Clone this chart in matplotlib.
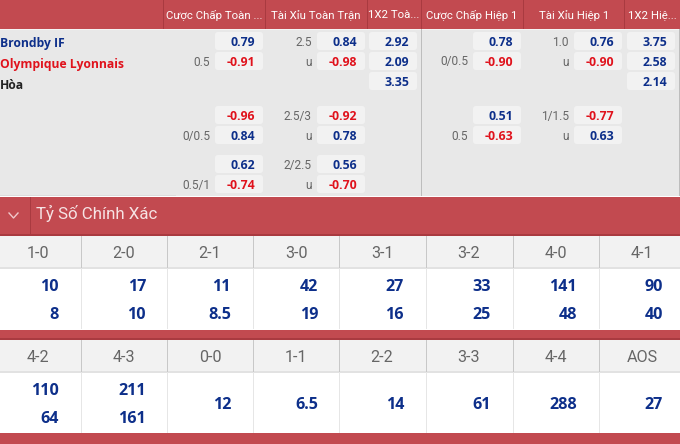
import matplotlib
matplotlib.use("Agg")
import matplotlib.pyplot as plt
from matplotlib.patches import Rectangle, FancyBboxPatch

plt.rcParams['font.family'] = ['Open Sans', 'DejaVu Sans']
NARROW = ['Roboto', 'DejaVu Sans']

RED = "#c24a50"
DARKRED = "#a93a40"
GREY = "#e8e8e8"
CHIP = "#f2f2f2"
BLUE = "#0d2f8a"
ODD_RED = "#e0121c"
TXT = "#666666"

# top table
headers = ["Cược Chấp Toàn ...", "Tài Xỉu Toàn Trận", "1X2 Toà...", "Cược Chấp Hiệp 1", "Tài Xỉu Hiệp 1", "1X2 Hiệ..."]
teams = ["Brondby IF", "Olympique Lyonnais", "Hòa"]
team_colors = [BLUE, ODD_RED, "#222222"]

hcap_lines = [None, "0.5", None, None, "0/0.5", None, "0.5/1"]
hcap_odds = ["0.79", "-0.91", None, "-0.96", "0.84", "0.62", "-0.74"]
ou_lines = ["2.5", "u", None, "2.5/3", "u", "2/2.5", "u"]
ou_odds = ["0.84", "-0.98", None, "-0.92", "0.78", "0.56", "-0.70"]
x12_odds = ["2.92", "2.09", "3.35", None, None, None, None]
h1_hcap_lines = [None, "0/0.5", None, None, "0.5", None, None]
h1_hcap_odds = ["0.78", "-0.90", None, "0.51", "-0.63", None, None]
h1_ou_lines = ["1.0", "u", None, "1/1.5", "u", None, None]
h1_ou_odds = ["0.76", "-0.90", None, "-0.77", "0.63", None, None]
h1_x12_odds = ["3.75", "2.58", "2.14", None, None, None, None]

# correct score table
section_title = "Tỷ Số Chính Xác"
scores_1 = ["1-0", "2-0", "2-1", "3-0", "3-1", "3-2", "4-0", "4-1"]
top_1 = ["10", "17", "11", "42", "27", "33", "141", "90"]
bot_1 = ["8", "10", "8.5", "19", "16", "25", "48", "40"]
scores_2 = ["4-2", "4-3", "0-0", "1-1", "2-2", "3-3", "4-4", "AOS"]
top_2 = ["110", "211", None, None, None, None, None, None]
bot_2 = ["64", "161", None, None, None, None, None, None]
single_2 = [None, None, "12", "6.5", "14", "61", "288", "27"]

# layout, pixels
row_tops = [32, 52, 72, 106, 126, 155, 175]
chip_x = [215, 317, 369, 473, 574, 627]
header_div = [163, 265, 367, 421, 523, 624]
header_mid = [214, 316, 394, 472, 574, 652]
cell_x = [0, 81, 167, 253, 339, 426, 513, 599, 680]
score_mid = [38, 124, 210, 296, 382, 469, 556, 642]
value_right = [59, 146, 231, 318, 404, 491, 577, 663]

fig = plt.figure(figsize=(6.8, 4.44), dpi=100)
ax = fig.add_axes([0, 0, 1, 1])
ax.set_xlim(0, 680)
ax.set_ylim(444, 0)
ax.axis("off")


def box(x, y, w, h, color, z=1):
    ax.add_patch(Rectangle((x, y), w, h, facecolor=color, edgecolor="none", zorder=z))


def chip(x, y, val):
    ax.add_patch(FancyBboxPatch((x + 1, y + 1), 46, 16, boxstyle="round,pad=0,rounding_size=2",
                                facecolor=CHIP, edgecolor=CHIP, lw=1.5, zorder=2))
    col = ODD_RED if val.startswith("-") else BLUE
    ax.text(x + 40, y + 10, val, ha="right", va="center", fontsize=8.8, fontweight="bold", color=col, zorder=3)


# top table
box(0, 0, 680, 29, RED)
box(0, 29, 680, 167, GREY)
box(0, 29, 680, 1, "#f4f4f4", 2)
for x in header_div:
    box(x, 0, 1, 29, DARKRED, 2)
for x in [421, 678.5]:
    box(x, 29, 1, 167, "#bdbdbd", 2)
box(0, 195, 176, 1, "#dcdcdc", 2)
for h, m in zip(headers, header_mid):
    ax.text(m, 15.5, h, ha="center", va="center", fontsize=8.2, color="white", family=NARROW, zorder=3)
for t, c, y in zip(teams, team_colors, [43, 64.5, 85.5]):
    ax.text(0, y, t, ha="left", va="center", fontsize=8.7, fontweight="bold", color=c, zorder=3)

columns = [
    (hcap_lines, hcap_odds, chip_x[0]),
    (ou_lines, ou_odds, chip_x[1]),
    (None, x12_odds, chip_x[2]),
    (h1_hcap_lines, h1_hcap_odds, chip_x[3]),
    (h1_ou_lines, h1_ou_odds, chip_x[4]),
    (None, h1_x12_odds, chip_x[5]),
]
for lines, odds, x in columns:
    for i, y in enumerate(row_tops):
        if odds[i] is not None:
            chip(x, y, odds[i])
        if lines is not None and lines[i] is not None:
            ax.text(x - 5, y + 10, lines[i], ha="right", va="center", fontsize=8.6, color=TXT, family=NARROW, zorder=3)

# section bar
box(0, 196, 680, 1, "white", 1)
box(0, 197, 680, 38, RED)
box(0, 234, 680, 1.5, DARKRED, 2)
box(29.5, 197, 1, 38, DARKRED, 2)
ax.plot([9, 13.5, 18], [213, 218, 213], color="#f0c8ca", lw=1, zorder=3)
ax.text(36.5, 213, section_title, ha="left", va="center", fontsize=12.2, color="#f6e3e4", family=NARROW, zorder=3)


def score_row(y0, scores, top, bot, single):
    box(0, y0, 680, 32, CHIP)
    box(0, y0 + 31, 680, 1.5, "#e2e2e2", 2)
    box(0, y0 + 32, 680, 61, "white")
    for i, s in enumerate(scores):
        if i > 0:
            box(cell_x[i], y0, 1.3, 32, "#c8c8c8", 2)
            box(cell_x[i], y0 + 32, 1.3, 61, "#e6e6e6", 2)
        ax.text(score_mid[i], y0 + 17.5, s, ha="center", va="center", fontsize=11.6, color=TXT, family=NARROW, zorder=3)
        xr = value_right[i]
        if single[i] is not None:
            ax.text(xr, y0 + 64.5, single[i], ha="right", va="center", fontsize=11.6, fontweight="bold", color=BLUE, zorder=3)
        else:
            ax.text(xr, y0 + 50.5, top[i], ha="right", va="center", fontsize=11.6, fontweight="bold", color=BLUE, zorder=3)
            ax.text(xr, y0 + 79, bot[i], ha="right", va="center", fontsize=11.6, fontweight="bold", color=BLUE, zorder=3)


score_row(236, scores_1, top_1, bot_1, [None] * 8)
box(0, 329.5, 680, 10.5, RED, 2)
box(0, 337.5, 680, 2, DARKRED, 2)
score_row(340, scores_2, top_2, bot_2, single_2)
box(0, 433, 680, 11, RED, 2)

fig.savefig("out.png", dpi=100)
